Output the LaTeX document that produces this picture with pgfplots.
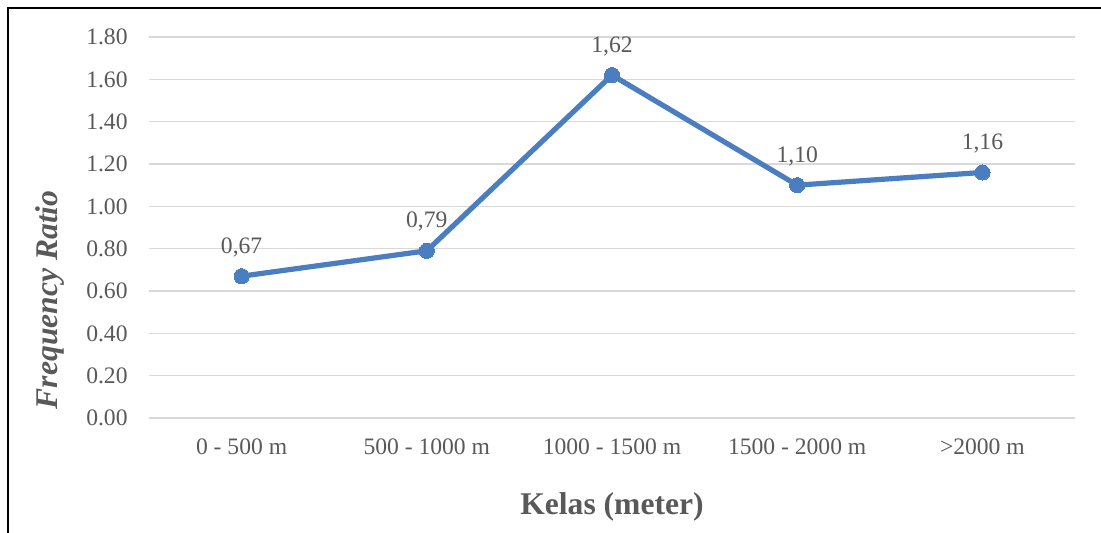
\documentclass[border=0pt]{standalone}
\usepackage{pgfplots}
\pgfplotsset{compat=1.18}
\usepackage{fontspec}
\setmainfont{Liberation Serif}
\definecolor{txtgray}{HTML}{595959}
\definecolor{gridgray}{HTML}{D9D9D9}
\definecolor{lineblue}{HTML}{4A7EC1}
\begin{document}
\begin{tikzpicture}
% page extent and the frame around the chart
\path[use as bounding box] (-74.5pt,-57.5pt) rectangle (476pt,209pt);
\draw[black, line width=1pt] (-70.25pt,-60pt) -- (-70.25pt,204.75pt) -- (480pt,204.75pt);
\begin{axis}[
  at={(0,0)}, anchor=south west,
  scale only axis,
  width=463pt, height=190.5pt,
  xmin=-0.5, xmax=4.5,
  ymin=0, ymax=1.8,
  xtick={0,1,2,3,4},
  xticklabels={0 - 500 m, 500 - 1000 m, 1000 - 1500 m, 1500 - 2000 m, >2000 m},
  ytick={0,0.2,...,1.81},
  /pgf/number format/assume math mode=true,
  ymajorgrids,
  grid style={gridgray, line width=0.75pt},
  axis line style={draw=none},
  tick style={draw=none},
  tick label style={font=\fontsize{11.8pt}{14pt}\selectfont, text=txtgray},
  yticklabel style={/pgf/number format/fixed, /pgf/number format/fixed zerofill,
    /pgf/number format/precision=2,
    inner sep=0pt, anchor=east, xshift=-10.5pt},
  xticklabel style={inner sep=0pt, anchor=north, yshift=-10pt},
  xlabel={Kelas (meter)},
  xlabel style={at={(axis description cs:0.5,0)}, anchor=center, yshift=-44.5pt,
    font=\fontsize{15.8pt}{18pt}\selectfont\bfseries, text=txtgray},
  ylabel={Frequency Ratio},
  ylabel style={at={(axis description cs:0,0.31)}, anchor=center, yshift=49.5pt,
    font=\fontsize{15.8pt}{18pt}\selectfont\bfseries\itshape, text=txtgray},
  clip=false,
]
\addplot[lineblue, line width=2.6pt, mark=*, mark size=3.8pt,
  mark options={fill=lineblue, draw=lineblue, line width=0pt},
  nodes near coords={\pgfmathprintnumber[fixed, fixed zerofill, precision=2, use comma, assume math mode=true]{\pgfplotspointmeta}},
  nodes near coords style={anchor=base, inner sep=0pt, yshift=11.5pt,
    font=\fontsize{11.8pt}{14pt}\selectfont, text=txtgray},
] coordinates {
  (0,0.67) (1,0.79) (2,1.62) (3,1.10) (4,1.16)
};
\end{axis}
\end{tikzpicture}
\end{document}
